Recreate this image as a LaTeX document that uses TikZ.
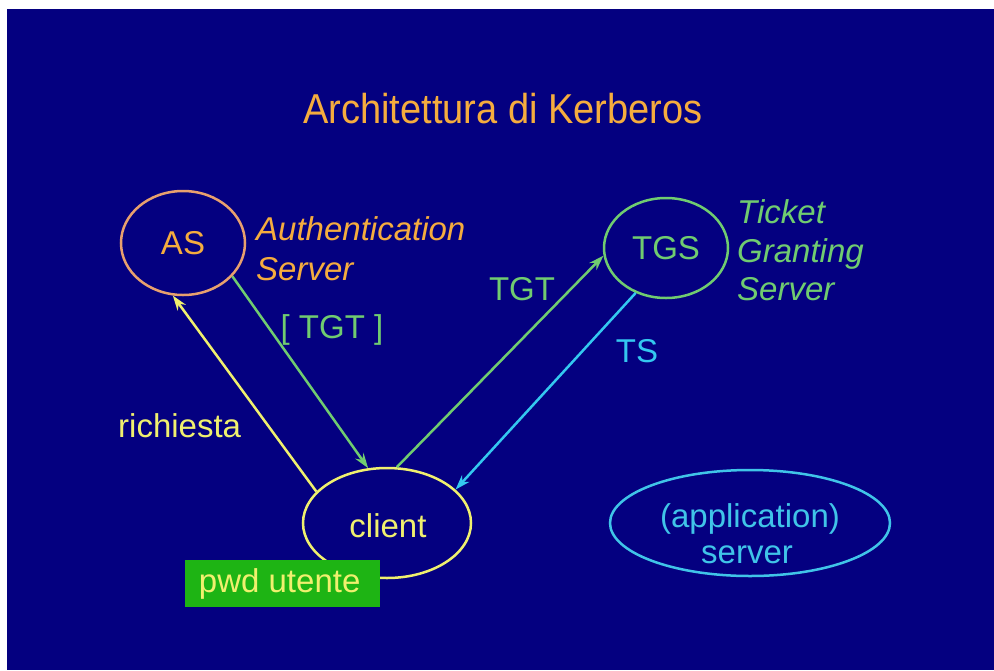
\documentclass[tikz,border=0pt]{standalone}
\usepackage{fontspec}
\setmainfont{Liberation Sans}
\usetikzlibrary{shapes.geometric,arrows.meta}
\definecolor{navy}{RGB}{4,0,128}
\definecolor{ttlorange}{RGB}{245,172,62}
\definecolor{asorange}{RGB}{232,160,110}
\definecolor{lgreen}{RGB}{112,204,112}
\definecolor{lcyan}{RGB}{52,200,240}
\definecolor{lyellow}{RGB}{240,240,110}
\definecolor{boxgreen}{RGB}{30,180,20}
\definecolor{appcyan}{RGB}{64,196,232}
\tikzset{
  txt/.style={font=\fontsize{33}{38}\selectfont, inner sep=0pt},
  itxt/.style={font=\fontsize{33}{38}\selectfont\itshape, inner sep=0pt},
  oval/.style={ellipse, draw, line width=2.5pt, inner sep=0pt, font=\fontsize{33}{38}\selectfont},
  conn/.style={line width=2.5pt, -{Stealth[length=15pt,width=10pt]}},
}
\begin{document}
\begin{tikzpicture}[x=1pt,y=-1pt]
\useasboundingbox (0,0) rectangle (994,670);
\fill[white] (0,0) rectangle (994,670);
\fill[navy] (7,9) rectangle (994,670);
% title
\node[txt, font=\fontsize{38}{44}\selectfont, text=ttlorange, anchor=base] (title) at (503,123) {\scalebox{1}[1.1]{Architettura di Kerberos}};
% ellipses
\node[oval, draw=asorange, text=ttlorange, minimum width=124pt, minimum height=104pt] (as) at (183,243) {};
\node[txt, text=ttlorange] (astxt) at (as.center) {AS};
\node[oval, draw=lgreen, text=lgreen, minimum width=124pt, minimum height=100pt] (tgs) at (666,248) {};
\node[txt, text=lgreen] (tgstxt) at (tgs.center) {TGS};
\node[oval, draw=lyellow, minimum width=168pt, minimum height=110pt] (client) at (387,523) {};
\node[txt, text=lyellow, anchor=base] (clienttxt) at (388,537) {client};
\node[oval, draw=appcyan, minimum width=280pt, minimum height=106pt] (app) at (750,523) {};
\node[txt, text=appcyan, anchor=base] (app1) at (750,527) {(application)};
\node[txt, text=appcyan, anchor=base] (app2) at (747,563) {server};
% pwd box
\node[fill=boxgreen, text=lyellow, minimum width=195pt, minimum height=47pt, inner sep=0pt, font=\fontsize{33}{38}\selectfont, anchor=north west] (pwd) at (185,560) {\hspace*{-6pt}pwd utente};
% side labels
\node[itxt, text=ttlorange, anchor=base west] (auth1) at (256,240) {Authentication};
\node[itxt, text=ttlorange, anchor=base west] (auth2) at (256,280) {Server};
\node[itxt, text=lgreen, anchor=base west] (tick1) at (737,223) {Ticket};
\node[itxt, text=lgreen, anchor=base west] (tick2) at (737,262) {Granting};
\node[itxt, text=lgreen, anchor=base west] (tick3) at (737,300) {Server};
% connectors
\draw[conn, lyellow] (client.156) -- (as.259);
\draw[conn, lgreen] (as.326) -- (client.109);
\draw[conn, lgreen] (client.80) -- (tgs.187);
\draw[conn, lcyan] (tgs.236) -- (client.26);
% connector labels
\node[txt, text=lyellow, anchor=base west] (lrich) at (118,437) {richiesta};
\node[txt, text=lgreen, anchor=base] (ltgt1) at (332,338) {[ TGT ]};
\node[txt, text=lgreen, anchor=base] (ltgt2) at (522,300) {TGT};
\node[txt, text=lcyan, anchor=base] (lts) at (637,362) {TS};
\end{tikzpicture}
\end{document}
